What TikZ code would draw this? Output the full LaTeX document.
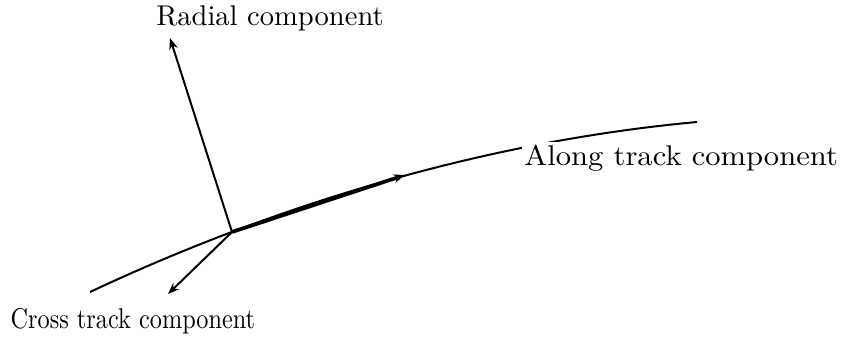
\documentclass[tikz,border=0pt]{standalone}
\usepackage{tikz}
\usetikzlibrary{arrows.meta,calc,positioning}

\begin{document}
\begin{tikzpicture}[x=0.35pt, y=-0.35pt, >={Stealth[length=4pt,width=3pt]}]
\useasboundingbox (0,0) rectangle (859,339);
\coordinate (O) at (232,232);
\coordinate (trackstart) at (90,292);
\coordinate (trackend) at (697,122);
\coordinate (rad) at (170,38);
\coordinate (cross) at (168,294);
\coordinate (along) at (405,175);
\draw[line width=0.7pt] (trackstart) .. controls (290,198) and (500,140) .. (trackend);
\draw[line width=0.7pt, ->] (O) -- (rad);
\draw[line width=0.7pt, ->] (O) -- (cross);
\draw[line width=1.3pt, ->] (O) -- (along);
\node[fill=white, inner sep=1pt, anchor=west] (alonglbl) at (521,158) {\scalebox{1.07}[1]{Along track component}};
\node (radlbl) at (270,18) {Radial component};
\node[anchor=west, inner sep=0pt] (crosslbl) at (10,321) {\scalebox{0.85}[1]{Cross track component}};
\end{tikzpicture}
\end{document}
